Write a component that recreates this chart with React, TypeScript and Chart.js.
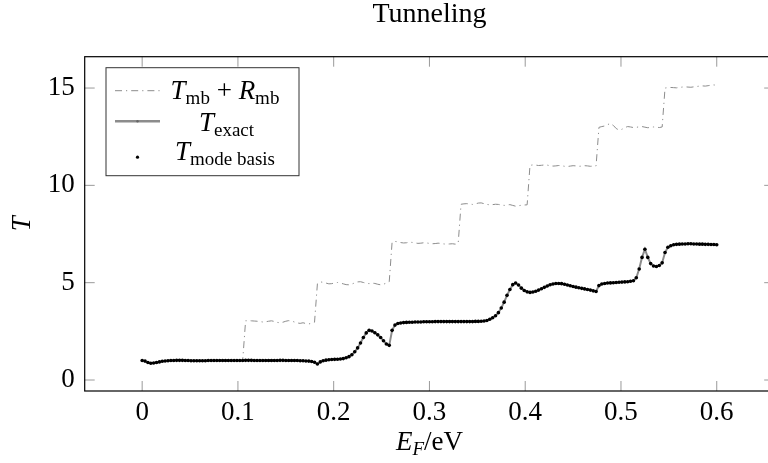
import { useEffect, useRef } from "react";
import { Chart, registerables } from "chart.js";

Chart.register(...registerables);

const FONT = '"Liberation Serif", "Times New Roman", serif';

const xValues = [
  0.000, 0.003, 0.006, 0.009, 0.012, 0.015, 0.018, 0.021, 0.024, 0.027,
  0.030, 0.033, 0.036, 0.039, 0.042, 0.045, 0.048, 0.051, 0.054, 0.057,
  0.060, 0.063, 0.066, 0.069, 0.072, 0.075, 0.078, 0.081, 0.084, 0.087,
  0.090, 0.093, 0.096, 0.099, 0.102, 0.105, 0.108, 0.111, 0.114, 0.117,
  0.120, 0.123, 0.126, 0.129, 0.132, 0.135, 0.138, 0.141, 0.144, 0.147,
  0.150, 0.153, 0.156, 0.159, 0.162, 0.165, 0.168, 0.171, 0.174, 0.177,
  0.180, 0.183, 0.186, 0.189, 0.192, 0.195, 0.198, 0.201, 0.204, 0.207,
  0.210, 0.213, 0.216, 0.219, 0.222, 0.225, 0.228, 0.231, 0.234, 0.237,
  0.240, 0.243, 0.246, 0.249, 0.252, 0.255, 0.258, 0.261, 0.264, 0.267,
  0.270, 0.273, 0.276, 0.279, 0.282, 0.285, 0.288, 0.291, 0.294, 0.297,
  0.300, 0.303, 0.306, 0.309, 0.312, 0.315, 0.318, 0.321, 0.324, 0.327,
  0.330, 0.333, 0.336, 0.339, 0.342, 0.345, 0.348, 0.351, 0.354, 0.357,
  0.360, 0.363, 0.366, 0.369, 0.372, 0.375, 0.378, 0.381, 0.384, 0.387,
  0.390, 0.393, 0.396, 0.399, 0.402, 0.405, 0.408, 0.411, 0.414, 0.417,
  0.420, 0.423, 0.426, 0.429, 0.432, 0.435, 0.438, 0.441, 0.444, 0.447,
  0.450, 0.453, 0.456, 0.459, 0.462, 0.465, 0.468, 0.471, 0.474, 0.477,
  0.480, 0.483, 0.486, 0.489, 0.492, 0.495, 0.498, 0.501, 0.504, 0.507,
  0.510, 0.513, 0.516, 0.519, 0.522, 0.525, 0.528, 0.531, 0.534, 0.537,
  0.540, 0.543, 0.546, 0.549, 0.552, 0.555, 0.558, 0.561, 0.564, 0.567,
  0.570, 0.573, 0.576, 0.579, 0.582, 0.585, 0.588, 0.591, 0.594, 0.597,
  0.600,
];

const tExact = [
  1.00, 0.97, 0.90, 0.86, 0.87, 0.90, 0.93, 0.96, 0.98, 0.99,
  1.00, 1.00, 1.01, 1.01, 1.01, 1.00, 1.00, 0.99, 0.99, 0.99,
  0.99, 0.99, 0.99, 1.00, 1.00, 1.00, 1.00, 1.00, 1.00, 1.00,
  1.00, 1.00, 1.00, 1.00, 1.00, 1.00, 1.01, 1.01, 1.01, 1.00,
  1.00, 1.00, 1.00, 1.00, 1.00, 1.00, 1.00, 1.00, 1.01, 1.01,
  1.00, 1.00, 1.00, 1.00, 1.00, 0.99, 0.99, 0.98, 0.97, 0.95,
  0.91, 0.82, 0.93, 0.99, 1.02, 1.04, 1.05, 1.06, 1.07, 1.08,
  1.10, 1.14, 1.20, 1.30, 1.45, 1.65, 1.90, 2.18, 2.42, 2.55,
  2.52, 2.43, 2.32, 2.18, 2.02, 1.85, 1.78, 2.55, 2.82, 2.90,
  2.93, 2.95, 2.96, 2.97, 2.97, 2.98, 2.98, 2.98, 2.99, 2.99,
  2.99, 2.99, 3.00, 3.00, 3.00, 3.00, 3.00, 3.00, 3.00, 3.00,
  3.00, 3.00, 3.00, 3.00, 3.00, 3.00, 3.01, 3.01, 3.02, 3.03,
  3.06, 3.12, 3.20, 3.30, 3.46, 3.70, 4.00, 4.35, 4.65, 4.90,
  4.98, 4.88, 4.72, 4.60, 4.53, 4.50, 4.52, 4.56, 4.62, 4.69,
  4.76, 4.83, 4.89, 4.93, 4.96, 4.96, 4.95, 4.92, 4.88, 4.84,
  4.80, 4.77, 4.74, 4.71, 4.68, 4.65, 4.62, 4.58, 4.55, 4.85,
  4.93, 4.96, 4.98, 4.99, 5.00, 5.01, 5.02, 5.03, 5.04, 5.05,
  5.07, 5.10, 5.25, 5.70, 6.30, 6.72, 6.30, 5.98, 5.86, 5.83,
  5.88, 6.02, 6.55, 6.82, 6.90, 6.95, 6.97, 6.98, 6.99, 6.99,
  7.00, 7.00, 6.99, 6.99, 6.98, 6.98, 6.97, 6.97, 6.96, 6.96,
  6.95,
];

const tModeBasis = tExact;

const tMbRmb = [
  1.00, 0.98, 0.92, 0.88, 0.88, 0.91, 0.94, 0.96, 0.98, 0.99,
  1.00, 1.00, 1.01, 1.01, 1.01, 1.00, 1.00, 0.99, 0.99, 0.99,
  0.99, 0.99, 0.99, 1.00, 1.00, 1.00, 1.00, 1.00, 1.00, 1.00,
  1.00, 1.00, 1.00, 1.00, 1.00, 1.01, 3.04, 3.05, 3.04, 3.03,
  3.02, 3.00, 2.98, 2.99, 3.02, 3.04, 3.01, 2.96, 2.94, 2.97,
  3.02, 3.05, 3.03, 2.98, 2.93, 2.91, 2.94, 2.90, 2.88, 2.92,
  2.97, 4.95, 5.04, 5.02, 4.98, 4.94, 4.95, 4.99, 5.01, 4.98,
  4.94, 4.90, 4.89, 4.93, 4.99, 5.04, 5.05, 5.01, 4.97, 4.95,
  4.98, 4.96, 4.92, 4.89, 4.92, 4.98, 5.05, 7.08, 7.12, 7.10,
  7.06, 7.04, 7.05, 7.08, 7.07, 7.04, 7.02, 7.03, 7.05, 7.04,
  7.02, 7.00, 7.01, 7.03, 7.02, 6.99, 6.98, 6.99, 7.00, 6.98,
  7.02, 9.03, 9.05, 9.06, 9.04, 9.02, 9.05, 9.09, 9.10, 9.06,
  9.02, 9.00, 9.01, 9.03, 9.02, 8.99, 8.97, 8.99, 9.01, 8.97,
  8.93, 8.95, 8.98, 8.99, 9.00, 11.03, 11.05, 11.04, 11.02, 11.03,
  11.05, 11.04, 11.01, 10.99, 11.00, 11.02, 11.01, 10.98, 10.97, 10.99,
  11.01, 11.00, 10.98, 10.99, 11.01, 11.00, 10.98, 10.99, 11.00, 12.98,
  13.02, 13.05, 13.12, 13.18, 13.08, 12.92, 12.84, 12.88, 12.97, 13.02,
  13.00, 12.97, 12.98, 13.01, 13.02, 12.99, 12.96, 12.98, 13.00, 12.99,
  12.97, 13.00, 15.00, 15.02, 15.03, 15.02, 15.01, 15.03, 15.05, 15.06,
  15.05, 15.04, 15.06, 15.08, 15.10, 15.11, 15.10, 15.12, 15.15, 15.16,
  15.14,
];

const xTicks = [0, 0.1, 0.2, 0.3, 0.4, 0.5, 0.6];
const yTicks = [0, 5, 10, 15];

const titleText = "Tunneling";

const TICK = 10;
const FS = 27;
const SUB = 19;

type Run = { text: string; font: string; dy?: number };

function drawRuns(ctx: CanvasRenderingContext2D, runs: Run[], cx: number, baseline: number) {
  let total = 0;
  const widths = runs.map((r) => {
    ctx.font = r.font;
    const w = ctx.measureText(r.text).width;
    total += w;
    return w;
  });
  let x = cx - total / 2;
  ctx.textAlign = "left";
  ctx.textBaseline = "alphabetic";
  runs.forEach((r, i) => {
    ctx.font = r.font;
    ctx.fillText(r.text, x, baseline + (r.dy || 0));
    x += widths[i];
  });
}

const it = (s: number) => `italic ${s}px ${FONT}`;
const rm = (s: number) => `${s}px ${FONT}`;

const decor = {
  id: "decor",
  afterDraw(chart: any) {
    const { ctx, chartArea: a, scales } = chart;
    const xs = scales.x;
    const ys = scales.y;
    ctx.save();
    ctx.strokeStyle = "#9a9a9a";
    ctx.lineWidth = 1;
    ctx.beginPath();
    xs.ticks.forEach((t: any) => {
      const px = xs.getPixelForValue(t.value);
      ctx.moveTo(px, a.bottom);
      ctx.lineTo(px, a.bottom - TICK);
      ctx.moveTo(px, a.top);
      ctx.lineTo(px, a.top + TICK);
    });
    ys.ticks.forEach((t: any) => {
      const py = ys.getPixelForValue(t.value);
      ctx.moveTo(a.left, py);
      ctx.lineTo(a.left + TICK, py);
      ctx.moveTo(a.right, py);
      ctx.lineTo(a.right - TICK, py);
    });
    ctx.stroke();
    ctx.strokeStyle = "#000";
    ctx.lineWidth = 1.2;
    ctx.strokeRect(a.left, a.top, a.right - a.left, a.bottom - a.top);

    ctx.fillStyle = "#000";
    const cx = (a.left + a.right) / 2;
    drawRuns(ctx, [{ text: titleText, font: rm(28) }], cx, 22);
    drawRuns(
      ctx,
      [
        { text: "E", font: it(FS) },
        { text: "F", font: it(SUB), dy: 5 },
        { text: "/eV", font: rm(FS) },
      ],
      cx,
      450
    );
    ctx.save();
    ctx.translate(30, (a.top + a.bottom) / 2);
    ctx.rotate(-Math.PI / 2);
    drawRuns(ctx, [{ text: "T", font: it(FS) }], 0, 0);
    ctx.restore();

    const lx = a.left + 21.3;
    const ly = a.top + 11;
    const lw = 193;
    const lh = 108;
    ctx.fillStyle = "#fff";
    ctx.fillRect(lx, ly, lw, lh);
    ctx.strokeStyle = "#333";
    ctx.lineWidth = 1;
    ctx.strokeRect(lx, ly, lw, lh);

    const sx0 = lx + 9;
    const sx1 = lx + 54;
    const tcx = lx + 119;
    ctx.strokeStyle = "#8c8c8c";
    ctx.lineWidth = 1;
    ctx.setLineDash([7, 4, 1.2, 4]);
    ctx.beginPath();
    ctx.moveTo(sx0, ly + 23);
    ctx.lineTo(sx1, ly + 23);
    ctx.stroke();
    ctx.setLineDash([]);
    ctx.strokeStyle = "#8c8c8c";
    ctx.lineWidth = 2.5;
    ctx.beginPath();
    ctx.moveTo(sx0, ly + 53.5);
    ctx.lineTo(sx1, ly + 53.5);
    ctx.stroke();
    ctx.fillStyle = "#666";
    ctx.beginPath();
    ctx.arc((sx0 + sx1) / 2, ly + 53.5, 1.2, 0, Math.PI * 2);
    ctx.fill();
    ctx.fillStyle = "#000";
    ctx.beginPath();
    ctx.arc((sx0 + sx1) / 2, ly + 89.5, 1.6, 0, Math.PI * 2);
    ctx.fill();

    ctx.fillStyle = "#000";
    drawRuns(
      ctx,
      [
        { text: "T", font: it(FS) },
        { text: "mb", font: rm(SUB), dy: 5 },
        { text: " + ", font: rm(FS) },
        { text: "R", font: it(FS) },
        { text: "mb", font: rm(SUB), dy: 5 },
      ],
      tcx,
      ly + 31.6
    );
    drawRuns(
      ctx,
      [
        { text: "T", font: it(FS) },
        { text: "exact", font: rm(SUB), dy: 5 },
      ],
      tcx + 1.5,
      ly + 63
    );
    drawRuns(
      ctx,
      [
        { text: "T", font: it(FS) },
        { text: "mode basis", font: rm(SUB), dy: 5 },
      ],
      tcx,
      ly + 92.3
    );
    ctx.restore();
  },
};

const pts = (ys: number[]) => xValues.map((x, i) => ({ x, y: ys[i] }));

export default function App() {
  const ref = useRef<HTMLCanvasElement | null>(null);
  useEffect(() => {
    if (!ref.current) return;
    const chart = new Chart(ref.current, {
      type: "line",
      data: {
        datasets: [
          {
            label: "T mode basis",
            data: pts(tModeBasis),
            showLine: false,
            pointRadius: 1.8,
            pointBackgroundColor: "#000",
            pointBorderWidth: 0,
            order: 0,
          },
          {
            label: "T exact",
            data: pts(tExact),
            borderColor: "#8c8c8c",
            borderWidth: 2,
            pointRadius: 0.9,
            pointBackgroundColor: "#666",
            pointBorderWidth: 0,
            order: 1,
          },
          {
            label: "T mb + R mb",
            data: pts(tMbRmb),
            borderColor: "#8c8c8c",
            borderWidth: 1,
            borderDash: [7, 4, 1.2, 4],
            pointRadius: 0,
            order: 2,
          },
        ],
      } as any,
      options: {
        responsive: false,
        animation: false,
        events: [],
        layout: { padding: { top: 56.7, right: 5.8, left: 0, bottom: 0 } },
        plugins: {
          legend: { display: false },
          title: { display: false },
          tooltip: { enabled: false },
        },
        scales: {
          x: {
            type: "linear",
            min: -0.06,
            max: 0.66,
            afterBuildTicks: (s: any) => {
              s.ticks = xTicks.map((v) => ({ value: v }));
            },
            afterFit: (s: any) => {
              s.height = 72;
            },
            grid: { display: false, drawTicks: false },
            border: { display: false },
            ticks: {
              font: { family: FONT, size: FS },
              color: "#000",
              padding: 6,
              maxRotation: 0,
              autoSkip: false,
              callback: (v: any) => String(v),
            },
          },
          y: {
            type: "linear",
            min: -0.565,
            max: 16.61,
            afterBuildTicks: (s: any) => {
              s.ticks = yTicks.map((v) => ({ value: v }));
            },
            afterFit: (s: any) => {
              s.width = 84.7;
            },
            grid: { display: false, drawTicks: false },
            border: { display: false },
            ticks: {
              font: { family: FONT, size: FS },
              color: "#000",
              padding: 10,
              autoSkip: false,
              callback: (v: any) => String(v),
            },
          },
        },
      } as any,
      plugins: [decor],
    });
    return () => chart.destroy();
  }, []);

  return (
    <div style={{ position: "fixed", left: 0, top: 0, width: 768, height: 463, overflow: "hidden", background: "#fff" }}>
      <canvas ref={ref} width={780} height={463} style={{ display: "block", width: 780, height: 463 }} />
    </div>
  );
}
